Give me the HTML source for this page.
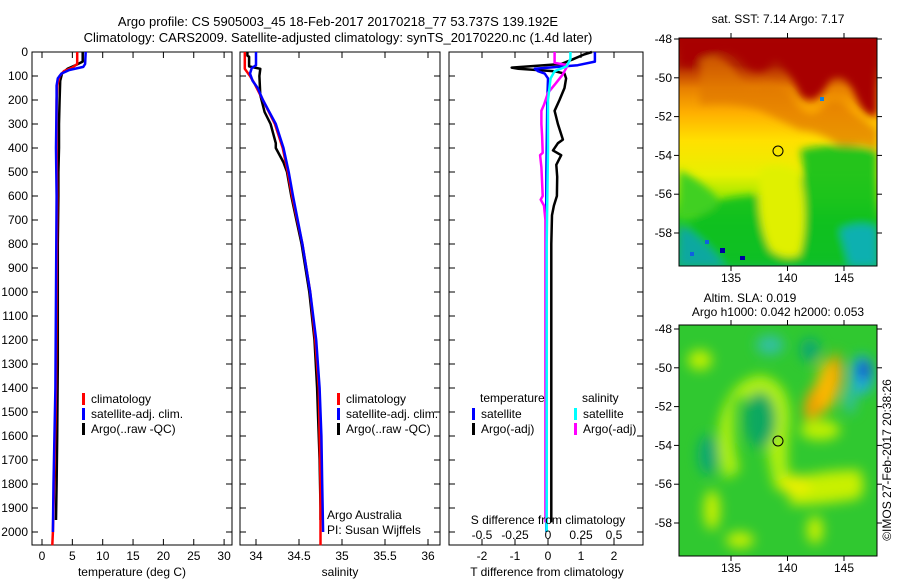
<!DOCTYPE html>
<html><head><meta charset="utf-8">
<style>
body{margin:0;background:#fff;}
svg{display:block;font-family:"Liberation Sans",sans-serif;}
text{font-size:12px;fill:#000;}
</style></head>
<body>
<svg id="chart" width="900" height="580" viewBox="0 0 900 580">
<defs>
<filter id="blur" x="-20%" y="-20%" width="140%" height="140%"><feGaussianBlur stdDeviation="4"/></filter>
<filter id="blur2" x="-20%" y="-20%" width="140%" height="140%"><feGaussianBlur stdDeviation="6"/></filter>
<clipPath id="clipTop"><rect x="679" y="38" width="198" height="228"/></clipPath>
<clipPath id="clipBot"><rect x="679" y="325" width="198" height="231"/></clipPath>
<linearGradient id="sstGrad" x1="0" y1="0" x2="0" y2="1">
<stop offset="0" stop-color="#a80000"/><stop offset="0.12" stop-color="#b02000"/>
<stop offset="0.22" stop-color="#e88000"/><stop offset="0.33" stop-color="#ffb000"/>
<stop offset="0.45" stop-color="#ffe000"/><stop offset="0.6" stop-color="#e8f000"/>
<stop offset="0.7" stop-color="#a0e800"/><stop offset="0.8" stop-color="#20c820"/>
<stop offset="1" stop-color="#10b860"/>
</linearGradient>
</defs>
<g id="titles">
<text x="338" y="26" text-anchor="middle" style="font-size:13px">Argo profile: CS 5905003_45 18-Feb-2017 20170218_77 53.737S 139.192E</text>
<text x="338" y="42" text-anchor="middle" style="font-size:13px">Climatology: CARS2009. Satellite-adjusted climatology: synTS_20170220.nc (1.4d later)</text>
</g>
<g id="p1"></g>
<g id="p2"></g>
<g id="p3"></g>

<g>
<text x="778" y="23" text-anchor="middle">sat. SST: 7.14 Argo: 7.17</text>
<g clip-path="url(#clipTop)">
<rect x="679" y="38" width="198" height="228" fill="url(#sstGrad)"/>
<g filter="url(#blur)">
<path d="M679,38 H877 V115 Q865,120 855,95 Q845,70 830,80 Q815,110 800,95 Q790,70 775,60 Q760,80 745,65 Q730,45 715,55 Q700,70 679,65 Z" fill="#a80000"/>
<path d="M700,60 Q720,50 735,70 Q745,90 760,85 Q775,80 790,95 Q805,120 820,110 Q835,90 850,110 L877,130 V150 Q860,140 845,150 Q820,130 800,130 Q780,120 760,110 Q730,100 700,105 Z" fill="#e07800" opacity="0.7"/>
<path d="M800,150 Q840,140 877,150 V266 H679 V240 Q700,210 720,200 Q760,190 790,200 Q810,180 800,150 Z" fill="#10c020" opacity="0.9"/>
<path d="M679,170 Q700,180 715,195 Q725,205 700,215 L679,220 Z" fill="#40d020"/>
<path d="M760,170 Q780,160 800,175 Q810,220 800,255 Q785,262 770,250 Q755,220 760,170 Z" fill="#e0f000"/>
<path d="M679,225 Q700,235 725,266 H679 Z" fill="#10a8a0"/>
<path d="M840,230 Q860,220 877,228 V266 H850 Z" fill="#10b0b0"/>
</g>
<rect x="720" y="248" width="5" height="5" fill="#0000a0"/><rect x="740" y="256" width="5" height="4" fill="#0000a0"/>
<rect x="690" y="252" width="4" height="4" fill="#1060e0"/><rect x="705" y="240" width="4" height="4" fill="#1060e0"/>
<rect x="820" y="97" width="4" height="4" fill="#1080e0"/>
<circle cx="778" cy="151" r="5" fill="none" stroke="#000" stroke-width="1"/>
</g>
<rect x="679" y="38" width="198" height="228" fill="none" stroke="#000" stroke-width="1"/>
</g>

<g>
<text x="750" y="302" text-anchor="middle">Altim. SLA: 0.019</text>
<text x="778" y="316" text-anchor="middle">Argo h1000: 0.042 h2000: 0.053</text>
<g clip-path="url(#clipBot)">
<rect x="679" y="325" width="198" height="231" fill="#30c830"/>
<g filter="url(#blur2)">
<ellipse cx="770" cy="345" rx="14" ry="10" fill="#30c0a0"/>
<ellipse cx="700" cy="360" rx="12" ry="10" fill="#c0f000"/>
<path d="M720,420 Q730,380 760,375 Q790,380 790,420 Q785,460 790,480 L775,490 Q765,450 765,420 Q750,390 735,400 Q730,440 740,470 L725,480 Q715,450 720,420Z" fill="#b0f010"/>
<ellipse cx="760" cy="420" rx="16" ry="28" fill="#10a860"/>
<path d="M835,350 Q850,370 835,400 Q820,420 805,420 Q800,400 815,385 Q830,370 835,350Z" fill="#f0a000"/>
<ellipse cx="826" cy="385" rx="10" ry="26" fill="#ffc000" opacity="0.7"/>
<ellipse cx="862" cy="375" rx="12" ry="20" fill="#20b0d0"/>
<ellipse cx="864" cy="370" rx="6" ry="10" fill="#1030d0"/>
<ellipse cx="850" cy="400" rx="6" ry="14" fill="#30c0a0"/>
<path d="M790,480 Q820,470 860,470 Q870,500 850,500 Q820,505 790,505 Z" fill="#c8f000"/>
<ellipse cx="795" cy="485" rx="16" ry="10" fill="#e8f000"/>
<ellipse cx="708" cy="455" rx="10" ry="20" fill="#10a870"/>
<ellipse cx="712" cy="510" rx="8" ry="20" fill="#c8f000"/>
<ellipse cx="820" cy="430" rx="20" ry="10" fill="#c0f000"/>
<ellipse cx="740" cy="540" rx="14" ry="8" fill="#c8f000"/>
<ellipse cx="815" cy="530" rx="8" ry="14" fill="#c8f000"/>
<ellipse cx="810" cy="350" rx="10" ry="12" fill="#10a870"/>
</g>
<circle cx="778" cy="441" r="5" fill="none" stroke="#000" stroke-width="1"/>
</g>
<rect x="679" y="325" width="198" height="231" fill="none" stroke="#000" stroke-width="1"/>
</g>
<text transform="translate(891,460) rotate(-90)" text-anchor="middle">©IMOS 27-Feb-2017 20:38:26</text>
<g id="maxes"></g>
</svg>
<script>
// ---- data ----
const depthTicks=[0,100,200,300,400,500,600,700,800,900,1000,1100,1200,1300,1400,1500,1600,1700,1800,1900,2000];
const tempTicks=[0,5,10,15,20,25,30];
const salTicks=[34,34.5,35,35.5,36];
const salTickLabels=["34","34.5","35","35.5","36"];
const tdiffTicks=[-2,-1,0,1,2];
const sdiffTicks=[-0.5,-0.25,0,0.25,0.5];
const sdiffLabels=["-0.5","-0.25","0","0.25","0.5"];
const lonTicks=[135,140,145];
const latTicks=[-48,-50,-52,-54,-56,-58];

const tClimDepth=[0,50,65,80,100,140,200,400,600,1000,1400,1800,2000,2055];
const tClimVal=[5.8,5.8,5.0,3.6,2.9,2.5,2.4,2.4,2.5,2.4,2.3,2.0,1.8,1.7];
const tSatDepth=[0,50,62,75,90,110,140,200,400,600,1000,1400,1800,2000];
const tSatVal=[7.2,7.1,6.8,4.5,3.2,2.6,2.4,2.4,2.3,2.4,2.3,2.2,1.9,1.8];
const tArgoDepth=[0,40,55,70,90,120,200,300,400,500,600,800,1000,1300,1600,1800,1950];
const tArgoVal=[6.7,6.7,5.5,4.2,3.3,3.0,2.9,2.8,2.8,2.7,2.7,2.6,2.6,2.6,2.5,2.4,2.3];

const sClimDepth=[0,70,80,100,130,200,300,400,500,600,800,1000,1200,1400,1600,1800,2000,2055];
const sClimVal=[33.87,33.87,33.89,33.93,33.98,34.08,34.22,34.31,34.37,34.42,34.54,34.63,34.69,34.73,34.74,34.75,34.75,34.75];
const sSatDepth=[0,55,67,90,120,150,200,300,400,500,600,800,1000,1200,1400,1600,1800,2000];
const sSatVal=[34.0,34.0,33.95,33.93,33.96,34.02,34.08,34.23,34.32,34.38,34.43,34.54,34.63,34.70,34.74,34.76,34.77,34.78];
const sArgoDepth=[0,15,20,60,70,100,180,250,300,380,400,460,500,600,700,800,1000,1200,1400,1500,1700,1900,1950];
const sArgoVal=[33.9,33.9,33.92,33.92,34.05,34.04,34.05,34.1,34.17,34.23,34.23,34.32,34.36,34.41,34.47,34.53,34.62,34.68,34.71,34.72,34.74,34.75,34.75];

const dTSatDepth=[0,40,55,70,80,90,110,200,500,1000,1500,2000];
const dTSatVal=[1.42,1.42,0.9,-0.4,-0.3,-0.1,0,-0.02,-0.05,-0.06,-0.05,-0.05];
const dTArgoDepth=[0,10,30,50,65,70,80,90,110,150,200,245,300,365,380,410,430,470,520,600,640,680,800,1200,1600,1960];
const dTArgoVal=[1.33,1.1,0.76,0.4,-1.1,-0.9,0.2,0.5,0.55,0.5,0.35,0.2,0.3,0.45,0.3,0.15,0.4,0.25,0.28,0.27,0.18,0.12,0.1,0.1,0.1,0.1];
const dSSatDepth=[0,30,60,80,110,200,400,800,1200,1600,2000];
const dSSatVal=[0.17,0.17,0.14,0.05,0.02,0.0,0.0,-0.01,-0.01,-0.01,-0.01];
const dSArgoDepth=[0,45,55,95,130,170,220,245,300,350,420,430,480,600,615,640,700,900,1200,1600,1960];
const dSArgoVal=[0.05,0.05,0.15,0.11,0.06,0.0,-0.03,-0.05,-0.05,-0.045,-0.04,-0.06,-0.05,-0.04,-0.055,-0.03,-0.02,-0.02,-0.02,-0.02,-0.02];

// ---- axes ----
const NS="http://www.w3.org/2000/svg";
const Y=d=>52+d*0.24;
const xT=v=>42+v*6.07;
const xS=v=>256+(v-34)*86;
const xTD=v=>548+v*33;
const xSD=v=>548+v*132;
const lonX=v=>731+(v-135)*11.3;
const latYt=v=>39+(-48-v)*19.4;
const latYb=v=>329+(-48-v)*19.4;
const TOP=52,BOT=545;

function mk(tag,attrs,parent,txt){const e=document.createElementNS(NS,tag);for(const k in attrs)e.setAttribute(k,attrs[k]);if(txt!==undefined)e.textContent=txt;parent.appendChild(e);return e;}

function frame(g,x0,x1){
  const r=mk('rect',{x:x0,y:TOP,width:x1-x0,height:BOT-TOP,fill:'none',stroke:'#000','stroke-width':1},g);
  
  
}
function xticks(g,ticks,fx,labels,ly){
  ticks.forEach((t,i)=>{
    const x=fx(t);
    mk('line',{x1:x,x2:x,y1:TOP,y2:TOP+6,stroke:'#000'},g);
    mk('line',{x1:x,x2:x,y1:BOT,y2:BOT-6,stroke:'#000'},g);
    if(labels){const tx=mk('text',{x:x,y:ly,'text-anchor':'middle'},g,labels[i]);
      
      }
  });
}
function line(g,depths,vals,fx,color,name,w){
  const pts=depths.map((d,i)=>fx(vals[i]).toFixed(1)+','+Y(d).toFixed(1)).join(' ');
  const p=mk('polyline',{points:pts,fill:'none',stroke:color,'stroke-width':w||2.5,'stroke-linejoin':'round'},g);
  
  
}
function legend(g,x,y,color,label){
  mk('rect',{x:x,y:y-10,width:3,height:12,fill:color},g);
  const t=mk('text',{x:x+9,y:y},g,label);
  
  
}

// panel 1
const p1=document.getElementById('p1');
frame(p1,32,232);
depthTicks.forEach(d=>{
  mk('line',{x1:32,x2:38,y1:Y(d),y2:Y(d),stroke:'#000'},p1);
  mk('line',{x1:232,x2:226,y1:Y(d),y2:Y(d),stroke:'#000'},p1);
  const t=mk('text',{x:28,y:Y(d)+4,'text-anchor':'end'},p1,String(d));
  
  
});
xticks(p1,tempTicks,xT,tempTicks.map(String),560);
line(p1,tArgoDepth,tArgoVal,xT,'#000','argo-temperature-line');
line(p1,tClimDepth,tClimVal,xT,'#f00','climatology-temperature-line');
line(p1,tSatDepth,tSatVal,xT,'#00f','satellite-temperature-line');
legend(p1,82,403,'#f00','climatology');
legend(p1,82,418,'#00f','satellite-adj. clim.');
legend(p1,82,433,'#000','Argo(..raw -QC)');
let t=mk('text',{x:132,y:576,'text-anchor':'middle'},p1,'temperature (deg C)');



// panel 2
const p2=document.getElementById('p2');
frame(p2,240,440);
xticks(p2,salTicks,xS,salTickLabels,560);
depthTicks.forEach(d=>{
  mk('line',{x1:240,x2:246,y1:Y(d),y2:Y(d),stroke:'#000'},p2);
  mk('line',{x1:440,x2:434,y1:Y(d),y2:Y(d),stroke:'#000'},p2);
});
line(p2,sArgoDepth,sArgoVal,xS,'#000','argo-salinity-line');
line(p2,sClimDepth,sClimVal,xS,'#f00','climatology-salinity-line');
line(p2,sSatDepth,sSatVal,xS,'#00f','satellite-salinity-line');
legend(p2,337,403,'#f00','climatology');
legend(p2,337,418,'#00f','satellite-adj. clim.');
legend(p2,337,433,'#000','Argo(..raw -QC)');
t=mk('text',{x:327,y:519},p2,'Argo Australia');


t=mk('text',{x:327,y:534},p2,'PI: Susan Wijffels');


t=mk('text',{x:340,y:576,'text-anchor':'middle'},p2,'salinity');



// panel 3
const p3=document.getElementById('p3');
frame(p3,449,643);
xticks(p3,tdiffTicks,xTD,tdiffTicks.map(String),560);
depthTicks.forEach(d=>{
  mk('line',{x1:449,x2:455,y1:Y(d),y2:Y(d),stroke:'#000'},p3);
  mk('line',{x1:643,x2:637,y1:Y(d),y2:Y(d),stroke:'#000'},p3);
});
line(p3,dTArgoDepth,dTArgoVal,xTD,'#000','argo-temperature-diff-line');
line(p3,dTSatDepth,dTSatVal,xTD,'#00f','satellite-temperature-diff-line');
line(p3,dSArgoDepth,dSArgoVal,xSD,'#f0f','argo-salinity-diff-line');
line(p3,dSSatDepth,dSSatVal,xSD,'#0ff','satellite-salinity-diff-line');
t=mk('text',{x:480,y:402},p3,'temperature');


t=mk('text',{x:582,y:402},p3,'salinity');


legend(p3,472,418,'#00f','satellite');
legend(p3,472,433,'#000','Argo(-adj)');
legend(p3,574,418,'#0ff','satellite');
legend(p3,574,433,'#f0f','Argo(-adj)');
t=mk('text',{x:548,y:524,'text-anchor':'middle'},p3,'S difference from climatology');


sdiffTicks.forEach((v,i)=>{
  const tx=mk('text',{x:xSD(v),y:539,'text-anchor':'middle'},p3,sdiffLabels[i]);
  
  
});
t=mk('text',{x:547,y:576,'text-anchor':'middle'},p3,'T difference from climatology');



// map axes
const ma=document.getElementById('maxes');
[[38,266,latYt],[325,556,latYb]].forEach(([y0,y1,fy])=>{
  lonTicks.forEach(v=>{
    const x=lonX(v);
    mk('line',{x1:x,x2:x,y1:y0,y2:y0-5,stroke:'#000'},ma);
    mk('line',{x1:x,x2:x,y1:y1,y2:y1+5,stroke:'#000'},ma);
    const tx=mk('text',{x:x,y:y1+16,'text-anchor':'middle'},ma,String(v));
    
    
  });
  latTicks.forEach(v=>{
    const y=fy(v);
    mk('line',{x1:679,x2:674,y1:y,y2:y,stroke:'#000'},ma);
    mk('line',{x1:877,x2:882,y1:y,y2:y,stroke:'#000'},ma);
    const tx=mk('text',{x:672,y:y+4,'text-anchor':'end'},ma,String(v));
    
    
  });
});
</script>
</body></html>
